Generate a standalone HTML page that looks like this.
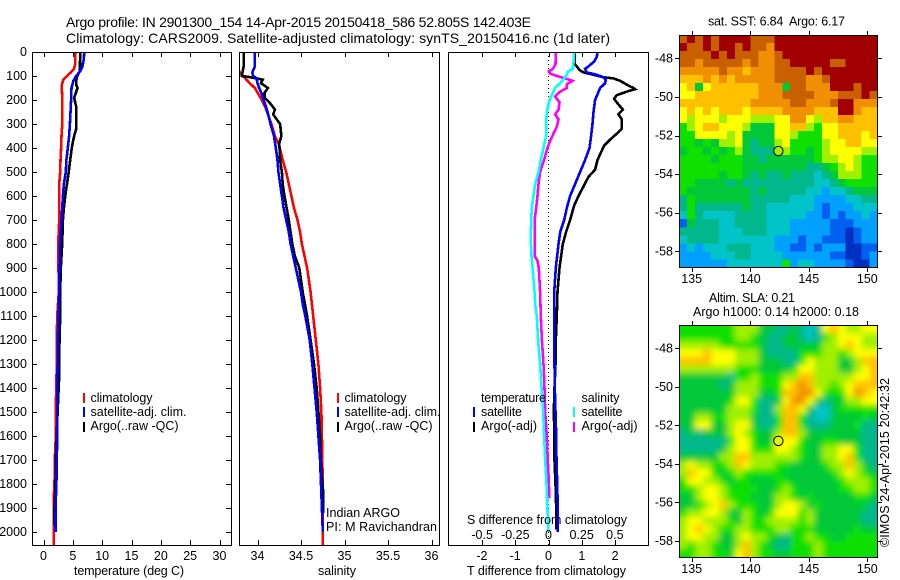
<!DOCTYPE html>
<html lang="en">
<head>
<meta charset="utf-8">
<title>Argo profile 2901300_154</title>
<style>
html,body{margin:0;padding:0;background:#fff;}
svg{display:block;}
text{font-family:"Liberation Sans",sans-serif;font-size:12.5px;fill:#000;}
.crisp{shape-rendering:crispEdges;}
</style>
</head>
<body>
<svg id="figure" xmlns="http://www.w3.org/2000/svg" width="900" height="580" viewBox="0 0 900 580">
<defs>
<clipPath id="clip-temp"><rect x="32" y="52" width="200" height="494"/></clipPath>
<clipPath id="clip-sal"><rect x="239" y="52" width="201" height="494"/></clipPath>
<clipPath id="clip-diff"><rect x="448" y="52" width="201" height="494"/></clipPath>
<clipPath id="clip-map-sst"><rect x="679" y="35" width="199" height="233"/></clipPath>
<clipPath id="clip-map-sla"><rect x="679" y="325" width="199" height="233"/></clipPath>
<filter id="smooth-field" x="-10%" y="-10%" width="120%" height="120%"><feGaussianBlur stdDeviation="3.2"/></filter>
</defs>
<rect x="0" y="0" width="900" height="580" fill="#fff"/>

<text x="66" y="27" textLength="465" font-size="14" style="font-size:14px">Argo profile: IN 2901300_154 14-Apr-2015 20150418_586 52.805S 142.403E</text>
<text x="66" y="43" textLength="544" style="font-size:14px">Climatology: CARS2009. Satellite-adjusted climatology: synTS_20150416.nc (1d later)</text>

<g id="panel-temp"></g>
<g id="panel-sal"></g>
<g id="panel-diff"></g>
<g id="map-sst"></g>
<g id="map-sla"></g>

<text x="74" y="575" textLength="110">temperature (deg C)</text>
<text x="318" y="575" textLength="38">salinity</text>
<text x="467" y="575" textLength="159">T difference from climatology</text>
<text x="467" y="524" textLength="160">S difference from climatology</text>

<g>
<rect class="crisp" x="83" y="393" width="2" height="10" fill="#ff0000"/>
<text x="90.5" y="402" textLength="62">climatology</text>
<rect class="crisp" x="83" y="407" width="2" height="10" fill="#0000ff"/>
<text x="90.5" y="416" textLength="96">satellite-adj. clim.</text>
<rect class="crisp" x="83" y="422" width="2" height="10" fill="#000"/>
<text x="90.5" y="430" textLength="88">Argo(..raw -QC)</text>
</g>
<g>
<rect class="crisp" x="337" y="393" width="2" height="10" fill="#ff0000"/>
<text x="344.5" y="402" textLength="62">climatology</text>
<rect class="crisp" x="337" y="407" width="2" height="10" fill="#0000ff"/>
<text x="344.5" y="416" textLength="96">satellite-adj. clim.</text>
<rect class="crisp" x="337" y="422" width="2" height="10" fill="#000"/>
<text x="344.5" y="430" textLength="88">Argo(..raw -QC)</text>
</g>
<g>
<text x="481" y="402" textLength="65">temperature</text>
<rect class="crisp" x="473" y="407" width="2" height="10" fill="#0000ff"/>
<text x="481" y="416" textLength="41">satellite</text>
<rect class="crisp" x="473" y="422" width="2" height="10" fill="#000"/>
<text x="481" y="430" textLength="56">Argo(-adj)</text>
<text x="581.5" y="402" textLength="38">salinity</text>
<rect class="crisp" x="573" y="407" width="2" height="10" fill="#00ffff"/>
<text x="581.5" y="416" textLength="41">satellite</text>
<rect class="crisp" x="573" y="422" width="2" height="10" fill="#ff00ff"/>
<text x="581.5" y="430" textLength="56">Argo(-adj)</text>
</g>

<text x="326" y="517" textLength="74">Indian ARGO</text>
<text x="326" y="531" textLength="111">PI: M Ravichandran</text>

<text x="708" y="25.5" textLength="137">sat. SST: 6.84&#160; Argo: 6.17</text>
<text x="709" y="302" textLength="86">Altim. SLA: 0.21</text>
<text x="693" y="316" textLength="166">Argo h1000: 0.14 h2000: 0.18</text>
<text transform="translate(889,547) rotate(-90)" x="0" y="0" textLength="169">©IMOS 24-Apr-2015 20:42:32</text>
</svg>

<script>
const depthTicks = [0,100,200,300,400,500,600,700,800,900,1000,1100,1200,1300,1400,1500,1600,1700,1800,1900,2000];
const tempTicks = [0,5,10,15,20,25,30];
const salTicks = [34,34.5,35,35.5,36];
const tDiffTicks = [-2,-1,0,1,2];
const sDiffTicks = [-0.5,-0.25,0,0.25,0.5];
const lonTicks = [135,140,145,150];
const latTicks = [-48,-50,-52,-54,-56,-58];

const tempClimDepth = [0,50,70,85,100,115,130,140,200,300,350,400,450,500,550,600,700,800,900,1000,1100,1200,1300,1400,1500,1600,1700,1800,1850,1900,2000,2060];
const tempClimValue = [5.45,5.4,5.2,4.66,4.0,3.4,3.2,3.1,3.2,3.2,3.07,3.0,2.9,2.85,2.67,2.67,2.67,2.5,2.55,2.6,2.33,2.27,2.27,2.16,2.1,2.1,1.93,1.88,1.76,1.76,1.76,1.76];
const tempSatDepth = [0,30,60,80,100,120,150,200,250,300,350,400,450,500,550,600,650,700,800,900,1000,1100,1200,1300,1400,1500,1600,1700,1800,1900,2000];
const tempSatValue = [6.93,6.87,6.65,6.25,5.57,5.1,4.77,4.7,4.6,4.5,4.37,4.15,3.9,3.8,3.47,3.3,3.18,3.07,2.8,2.73,2.67,2.55,2.44,2.4,2.33,2.33,2.33,2.27,2.2,2.05,2.05];
const tempArgoDepth = [0,80,95,105,120,140,150,170,190,210,230,300,320,340,370,400,450,500,550,600,650,700,800,900,1000,1100,1200,1300,1350,1500,1700,1800,1900,1970];
const tempArgoValue = [6.25,6.2,5.85,5.68,5.57,5.63,5.8,5.52,5.23,5.4,5.6,5.57,5.57,5.34,5.05,4.83,4.55,4.3,4.0,3.7,3.47,3.3,3.18,2.95,2.84,2.84,2.73,2.67,2.67,2.4,2.1,2.05,1.88,1.88];

const salClimDepth = [0,70,80,95,110,130,150,175,200,230,270,300,350,380,420,450,500,550,600,650,700,750,800,900,1000,1100,1200,1300,1400,1500,1600,1700,1800,2060];
const salClimValue = [33.5,33.75,33.79,33.82,33.86,33.91,33.97,34.01,34.05,34.09,34.13,34.16,34.2,34.24,34.27,34.29,34.33,34.36,34.39,34.42,34.46,34.49,34.51,34.57,34.61,34.64,34.67,34.7,34.72,34.735,34.74,34.745,34.75,34.75];
const salSatDepth = [0,60,85,100,110,130,150,175,200,230,270,300,350,400,450,500,550,600,650,700,750,800,900,1000,1050,1100,1200,1300,1400,1500,1600,1700,1800,1900,2000];
const salSatValue = [33.97,33.97,33.94,33.95,33.99,34.0,34.02,34.05,34.07,34.1,34.13,34.15,34.19,34.21,34.23,34.24,34.26,34.28,34.3,34.33,34.36,34.38,34.44,34.5,34.52,34.55,34.6,34.63,34.655,34.68,34.7,34.72,34.73,34.74,34.75];
const salArgoDepth = [0,60,80,100,105,115,130,150,170,190,200,220,240,260,280,300,350,380,450,500,550,600,700,800,850,900,1000,1100,1200,1300,1400,1500,1600,1650,1800,1830,1920];
const salArgoValue = [33.84,33.84,33.83,33.82,33.92,34.06,34.04,34.12,34.08,34.08,34.11,34.16,34.2,34.18,34.22,34.26,34.275,34.25,34.26,34.28,34.29,34.31,34.36,34.4,34.43,34.48,34.52,34.57,34.61,34.65,34.68,34.7,34.72,34.72,34.745,34.755,34.755];

const dtSatDepth = [0,20,40,60,70,85,95,105,115,130,150,200,250,300,350,400,450,500,550,600,650,700,750,800,900,1000,1100,1200,1300,1400,1500,1600,1700,1800,1900,2000];
const dtSatValue = [1.47,1.45,1.37,1.2,1.1,1.15,1.45,1.65,1.72,1.7,1.55,1.4,1.35,1.32,1.28,1.23,1.1,0.95,0.8,0.65,0.55,0.47,0.35,0.3,0.22,0.17,0.17,0.17,0.18,0.19,0.21,0.23,0.24,0.26,0.28,0.28];
const dtArgoDepth = [0,50,60,75,85,95,105,110,120,140,150,155,165,180,195,210,240,260,280,320,340,365,390,420,450,490,520,560,600,640,700,750,800,900,1000,1100,1200,1300,1400,1500,1600,1700,1800,1900,1990];
const dtArgoValue = [0.78,0.78,0.85,0.93,1.05,1.35,1.65,1.95,2.15,2.4,2.55,2.6,2.35,2.05,1.97,2.05,2.23,2.1,2.2,2.2,2.05,1.85,1.67,1.57,1.47,1.4,1.2,1.05,0.9,0.77,0.65,0.53,0.43,0.33,0.27,0.25,0.22,0.21,0.18,0.16,0.18,0.18,0.21,0.23,0.23];
const dsSatDepth = [0,50,70,80,100,130,150,180,200,250,300,350,400,450,500,550,600,650,700,750,800,850,900,1000,1050,1100,1200,1300,1400,1500,1600,1700,1800,1900,2000];
const dsSatValue = [0.193,0.188,0.183,0.15,0.133,0.088,0.05,0.025,0.008,-0.013,-0.018,-0.018,-0.038,-0.058,-0.075,-0.1,-0.113,-0.126,-0.13,-0.133,-0.133,-0.128,-0.12,-0.105,-0.1,-0.088,-0.078,-0.063,-0.053,-0.04,-0.033,-0.025,-0.015,-0.008,0];
const dsArgoDepth = [0,50,70,80,90,100,110,120,135,150,165,185,210,240,260,280,310,340,370,400,450,500,550,600,650,700,800,850,870,900,1000,1100,1200,1300,1400,1500,1600,1700,1800,1860];
const dsArgoValue = [0.055,0.053,0.033,0.003,0.013,0.063,0.126,0.18,0.138,0.138,0.088,0.05,0.083,0.075,0.05,0.075,0.063,0.038,0.013,-0.008,-0.033,-0.063,-0.075,-0.083,-0.093,-0.105,-0.105,-0.105,-0.083,-0.073,-0.063,-0.058,-0.05,-0.038,-0.03,-0.025,-0.013,-0.005,0.003,0.005];

const profileLat = -52.805;
const profileLon = 142.403;

const fieldLevelColors = ['#0030c0','#0060f0','#00a0ff','#00c4c8','#00b88c','#00c838','#10e000','#a0f000','#ffff00','#ffc000','#f09000','#c86000','#a00000'];

const sstLevels = [
[11,12,11,12,11,12,12,12,12,11,11,11,12,12,12,12,12,12,12,12,12,12,12,12,12],
[12,11,11,12,11,12,12,11,12,11,11,10,12,12,12,12,12,12,12,12,12,12,12,12,12],
[11,11,11,11,12,11,12,11,11,11,10,10,11,12,12,12,12,12,12,12,12,12,12,12,12],
[11,11,10,11,11,11,11,11,10,11,10,10,11,11,12,12,12,12,12,11,11,12,12,12,12],
[10,10,10,10,10,11,10,10,9,10,10,10,11,11,11,11,12,11,12,12,12,12,12,12,12],
[9,9,9,10,9,10,9,10,10,10,10,10,11,11,11,11,10,10,11,12,12,12,12,12,12],
[8,9,5,8,9,9,9,9,9,9,10,10,10,5,11,11,10,10,10,12,12,12,11,12,12],
[8,8,9,9,9,9,9,9,9,9,10,10,10,11,11,11,11,10,10,10,11,11,11,12,11],
[9,9,9,9,9,9,9,9,9,10,10,10,10,10,11,11,10,10,10,11,12,12,10,10,10],
[8,9,8,9,8,9,9,9,8,9,9,9,9,10,10,10,10,9,9,9,12,12,10,9,9],
[8,7,8,8,8,7,8,8,8,7,7,7,8,8,10,10,8,7,9,9,10,10,9,9,9],
[6,7,8,9,9,8,8,8,7,5,5,5,8,8,9,9,7,6,8,8,9,9,9,9,9],
[6,6,8,8,8,8,7,8,5,5,5,5,8,8,7,6,6,6,8,8,9,9,9,8,9],
[6,6,5,6,5,7,7,8,5,4,5,5,7,8,6,6,6,6,7,8,8,9,9,8,8],
[5,6,6,5,6,5,6,7,5,4,4,4,7,7,6,6,5,6,7,8,8,8,8,7,7],
[6,6,6,6,5,6,6,6,5,5,4,5,5,5,5,5,5,6,7,7,8,8,7,6,6],
[6,6,6,6,6,6,6,6,5,5,5,5,5,5,5,5,4,4,5,6,7,8,7,6,6],
[6,6,6,6,6,5,6,6,5,4,5,4,4,5,4,4,4,3,4,5,7,7,7,6,6],
[6,6,5,5,5,5,4,5,4,4,4,4,4,4,4,4,4,3,3,4,5,6,6,6,6],
[6,5,5,5,5,5,5,5,5,4,5,4,4,4,4,4,3,3,2,3,3,4,5,5,5],
[4,6,5,5,5,5,5,5,5,4,4,4,4,4,3,3,3,2,2,2,2,3,3,4,4],
[4,6,4,4,4,4,4,4,5,4,4,3,3,3,3,3,3,2,1,2,2,2,3,3,3],
[3,6,4,3,3,3,3,4,4,4,4,3,3,3,3,3,2,2,1,2,1,2,2,3,2],
[1,5,4,4,4,3,3,4,4,4,4,3,3,3,2,2,2,2,2,1,1,1,2,2,2],
[4,4,4,4,4,3,3,3,4,4,4,3,3,3,2,2,2,2,2,1,1,0,1,2,2],
[3,4,4,4,4,3,3,3,3,3,3,3,2,2,2,1,2,2,1,1,1,0,1,2,2],
[2,3,2,3,3,3,4,4,4,3,3,3,2,2,1,1,2,1,2,2,2,0,0,1,1],
[2,2,2,2,3,3,3,4,4,3,3,3,3,2,2,2,2,2,2,1,1,0,0,1,2],
[2,2,2,2,2,2,3,3,3,3,3,3,3,6,2,3,3,2,2,2,2,1,0,0,2]
];

const slaLevels = [
[6,6,6,6,6,6,6,7,7,7,5,5,4,4,5,4,3,4,8,9,8,7,7,8,8],
[6,6,6,6,6,6,6,7,7,6,5,4,4,5,5,4,3,4,6,7,8,8,8,7,7],
[7,7,7,7,7,6,6,6,6,6,5,4,4,5,5,5,5,5,7,7,8,9,8,7,7],
[8,8,8,9,8,8,8,7,7,7,5,4,4,4,4,6,6,6,7,7,6,7,8,8,8],
[9,9,9,9,8,8,8,7,7,7,5,5,5,4,4,6,8,7,7,7,5,5,7,9,9],
[7,7,7,7,7,7,7,6,6,6,5,5,5,5,6,8,8,7,7,7,5,5,7,8,9],
[5,5,5,5,5,5,4,6,6,7,6,6,6,7,7,9,9,7,7,7,7,7,8,8,9],
[5,5,5,5,5,4,5,7,7,7,6,6,6,8,9,10,9,7,7,6,7,8,9,9,9],
[5,5,5,5,5,5,5,7,7,7,5,5,6,9,9,10,10,8,6,6,6,8,10,9,8],
[5,5,5,5,5,5,6,8,8,6,4,4,5,8,10,10,8,5,4,5,5,7,7,8,8],
[5,5,5,5,5,5,7,7,7,6,4,4,7,9,9,8,5,3,3,5,6,6,6,6,6],
[5,5,7,7,6,6,7,7,7,5,4,4,6,9,9,6,4,3,3,5,5,5,5,6,5],
[5,5,8,8,5,5,7,8,8,5,4,4,6,9,9,6,4,4,4,5,5,5,6,4,4],
[4,5,4,5,5,5,7,8,7,6,5,5,7,9,9,7,5,5,5,5,5,5,5,4,4],
[4,4,4,4,4,4,6,8,8,6,5,5,8,8,8,6,5,5,6,6,5,5,5,4,4],
[4,4,4,4,4,5,7,8,8,6,6,6,8,8,7,6,5,5,7,7,8,8,6,4,4],
[5,5,5,5,5,7,7,9,9,7,7,7,7,7,7,6,5,5,7,7,8,9,6,4,4],
[7,8,7,7,6,6,7,9,8,7,7,7,6,6,5,5,5,5,6,7,7,9,7,5,4],
[7,9,8,8,6,5,6,7,6,6,6,6,6,5,5,5,5,5,5,6,7,8,7,6,5],
[6,8,8,7,7,6,5,6,6,5,5,5,6,6,5,5,5,5,5,5,6,7,7,7,6],
[6,6,7,8,8,7,6,6,6,6,5,5,6,7,6,5,5,5,5,5,6,6,7,7,6],
[5,5,7,8,8,7,6,6,6,5,5,5,7,7,6,5,6,5,5,5,5,5,6,6,5],
[5,5,6,7,8,9,7,6,6,6,5,5,7,8,8,7,5,6,5,5,5,5,5,5,4],
[6,7,7,8,8,7,5,5,7,6,5,6,8,8,8,6,7,5,5,5,5,5,5,4,4],
[7,8,8,7,7,7,6,5,7,6,6,7,7,7,7,6,7,5,5,5,5,5,5,4,4],
[7,8,9,8,7,6,6,7,7,6,6,6,7,7,6,6,6,5,5,5,5,5,6,5,5],
[7,8,8,7,7,5,5,7,8,7,7,6,5,4,6,6,7,6,6,5,5,6,6,6,6],
[7,6,7,7,6,5,5,7,9,7,6,5,4,4,6,6,6,7,6,6,6,6,6,6,6],
[6,6,7,7,6,6,5,8,9,7,6,6,5,5,6,6,6,7,6,6,6,6,6,6,6]
];

const SVGNS = 'http://www.w3.org/2000/svg';
const LON_WEST = 133.94, LON_EAST = 150.86, LAT_NORTH = -46.79, LAT_SOUTH = -58.83;

function yDepth(d){ return 52 + 0.24 * d; }
function xTemp(t){ return 43.5 + 5.867 * t; }
function xSal(s){ return 257.5 + 87 * (s - 34); }
function xDT(t){ return 548.5 + 33.3 * t; }
function xDS(s){ return 548.5 + 132.7 * s; }
function xLon(lon){ return 691.7 + 11.71 * (lon - 135); }
function ySst(lat){ return 58.3 + 19.3 * (-48 - lat); }
function ySla(lat){ return 348.3 + 19.27 * (-48 - lat); }

function make(tag, attrs, parent){
  const el = document.createElementNS(SVGNS, tag);
  for (const k in attrs) el.setAttribute(k, attrs[k]);
  parent.appendChild(el);
  return el;
}

function drawProfile(parent, depths, values, xFn, color, clipId, name){
  const pts = depths.map(function(d, i){ return xFn(values[i]).toFixed(1) + ',' + yDepth(d).toFixed(1); }).join(' ');
  const line = make('polyline', {points: pts, fill: 'none', stroke: color, 'stroke-width': 2.6, 'clip-path': 'url(#' + clipId + ')', class: 'crisp'}, parent);
  
  
}

function drawFrame(parent, x, y, w, h){
  const frame = make('rect', {x: x + 0.5, y: y + 0.5, width: w, height: h, fill: 'none', stroke: '#000', 'stroke-width': 1, class: 'crisp'}, parent);
  
  
}

function drawXTicks(parent, ticks, xFn, topY, bottomY, labelY, labelFn, showTop){
  ticks.forEach(function(v){
    const px = Math.round(xFn(v)) + 0.5;
    if (showTop) {
      const topTick = make('line', {x1: px, x2: px, y1: topY, y2: topY + 5, stroke: '#000', class: 'crisp'}, parent);
      
      
    }
    const bottomTick = make('line', {x1: px, x2: px, y1: bottomY, y2: bottomY - 5, stroke: '#000', class: 'crisp'}, parent);
    
    
    const label = make('text', {x: xFn(v), y: labelY, 'text-anchor': 'middle'}, parent);
    label.textContent = labelFn(v);
    
    
  });
}

/* temperature panel */
const tempPanel = document.getElementById('panel-temp');
drawProfile(tempPanel, tempClimDepth, tempClimValue, xTemp, '#ff0000', 'clip-temp', 'temperature-climatology-line');
drawProfile(tempPanel, tempArgoDepth, tempArgoValue, xTemp, '#000000', 'clip-temp', 'temperature-argo-line');
drawProfile(tempPanel, tempSatDepth, tempSatValue, xTemp, '#0000ff', 'clip-temp', 'temperature-satellite-line');
drawFrame(tempPanel, 32, 52, 199, 493);
drawXTicks(tempPanel, tempTicks, xTemp, 52, 545, 560, String, true);
depthTicks.forEach(function(d){
  const py = Math.round(yDepth(d)) + 0.5;
  const leftTick = make('line', {x1: 32, x2: 37, y1: py, y2: py, stroke: '#000', class: 'crisp'}, tempPanel);
  
  
  const rightTick = make('line', {x1: 226, x2: 231, y1: py, y2: py, stroke: '#000', class: 'crisp'}, tempPanel);
  
  
  const label = make('text', {x: 27, y: yDepth(d) + 4, 'text-anchor': 'end'}, tempPanel);
  label.textContent = String(d);
  
  
});

/* salinity panel */
const salPanel = document.getElementById('panel-sal');
drawProfile(salPanel, salClimDepth, salClimValue, xSal, '#ff0000', 'clip-sal', 'salinity-climatology-line');
drawProfile(salPanel, salArgoDepth, salArgoValue, xSal, '#000000', 'clip-sal', 'salinity-argo-line');
drawProfile(salPanel, salSatDepth, salSatValue, xSal, '#0000ff', 'clip-sal', 'salinity-satellite-line');
drawFrame(salPanel, 239, 52, 200, 493);
drawXTicks(salPanel, salTicks, xSal, 52, 545, 560, String, true);

/* difference panel */
const diffPanel = document.getElementById('panel-diff');
const zeroLine = make('line', {x1: xDT(0), x2: xDT(0), y1: 52, y2: 545, stroke: '#000', 'stroke-width': 1, 'stroke-dasharray': '1 3', class: 'crisp'}, diffPanel);


drawProfile(diffPanel, dtArgoDepth, dtArgoValue, xDT, '#000000', 'clip-diff', 't-difference-argo-line');
drawProfile(diffPanel, dtSatDepth, dtSatValue, xDT, '#0000ff', 'clip-diff', 't-difference-satellite-line');
drawProfile(diffPanel, dsArgoDepth, dsArgoValue, xDS, '#ff00ff', 'clip-diff', 's-difference-argo-line');
drawProfile(diffPanel, dsSatDepth, dsSatValue, xDS, '#00ffff', 'clip-diff', 's-difference-satellite-line');
drawFrame(diffPanel, 448, 52, 200, 493);
drawXTicks(diffPanel, tDiffTicks, xDT, 52, 545, 560, String, true);
sDiffTicks.forEach(function(s){
  const label = make('text', {x: xDS(s), y: 539, 'text-anchor': 'middle'}, diffPanel);
  label.textContent = String(s);
  
  
});

/* maps */
function drawField(parent, levels, yFn, clipId, blurred, cellName){
  const outer = make('g', {'clip-path': 'url(#' + clipId + ')'}, parent);
  
  
  const holder = make('g', blurred ? {filter: 'url(#smooth-field)'} : {}, outer);
  const nRows = levels.length;
  levels.forEach(function(row, r){
    const nCols = row.length;
    row.forEach(function(level, c){
      const lonA = LON_WEST + (LON_EAST - LON_WEST) * c / nCols;
      const lonB = LON_WEST + (LON_EAST - LON_WEST) * (c + 1) / nCols;
      const latA = LAT_NORTH + (LAT_SOUTH - LAT_NORTH) * r / nRows;
      const latB = LAT_NORTH + (LAT_SOUTH - LAT_NORTH) * (r + 1) / nRows;
      const pad = blurred ? 12 : 0;
      const x0 = xLon(lonA) - (c === 0 ? pad : 0);
      const x1 = xLon(lonB) + (c === nCols - 1 ? pad : 0.6);
      const y0 = yFn(latA) - (r === 0 ? pad : 0);
      const y1 = yFn(latB) + (r === nRows - 1 ? pad : 0.6);
      const cell = make('rect', {x: x0.toFixed(2), y: y0.toFixed(2), width: (x1 - x0).toFixed(2), height: (y1 - y0).toFixed(2), fill: fieldLevelColors[level], class: 'crisp'}, holder);
      
      
    });
  });
}

function drawMapAxes(parent, yFn, top, bottom, labelY){
  const frame = make('rect', {x: 679.5, y: top + 0.5, width: 198, height: bottom - top, fill: 'none', stroke: '#000', class: 'crisp'}, parent);
  
  
  lonTicks.forEach(function(lon){
    const px = Math.round(xLon(lon)) + 0.5;
    const t1 = make('line', {x1: px, x2: px, y1: top - 4, y2: top, stroke: '#000', class: 'crisp'}, parent);
    
    
    const t2 = make('line', {x1: px, x2: px, y1: bottom + 1, y2: bottom + 5, stroke: '#000', class: 'crisp'}, parent);
    
    
    const label = make('text', {x: xLon(lon), y: labelY, 'text-anchor': 'middle'}, parent);
    label.textContent = String(lon);
    
    
  });
  latTicks.forEach(function(lat){
    const py = Math.round(yFn(lat)) + 0.5;
    const t1 = make('line', {x1: 675, x2: 679, y1: py, y2: py, stroke: '#000', class: 'crisp'}, parent);
    
    
    const t2 = make('line', {x1: 878, x2: 882, y1: py, y2: py, stroke: '#000', class: 'crisp'}, parent);
    
    
    const label = make('text', {x: 673, y: yFn(lat) + 4, 'text-anchor': 'end'}, parent);
    label.textContent = String(lat);
    
    
  });
}

function drawMarker(parent, yFn, fill){
  const marker = make('circle', {cx: xLon(profileLon), cy: yFn(profileLat), r: 4.7, fill: fill, stroke: '#000', 'stroke-width': 1}, parent);
  
  
}

const sstMap = document.getElementById('map-sst');
drawField(sstMap, sstLevels, ySst, 'clip-map-sst', false, 'sst-cell');
drawMapAxes(sstMap, ySst, 35, 267, 283);
drawMarker(sstMap, ySst, '#a0f000');

const slaMap = document.getElementById('map-sla');
drawField(slaMap, slaLevels, ySla, 'clip-map-sla', true, 'sla-cell');
drawMapAxes(slaMap, ySla, 325, 557, 573);
drawMarker(slaMap, ySla, '#e0f800');
</script>
</body>
</html>
